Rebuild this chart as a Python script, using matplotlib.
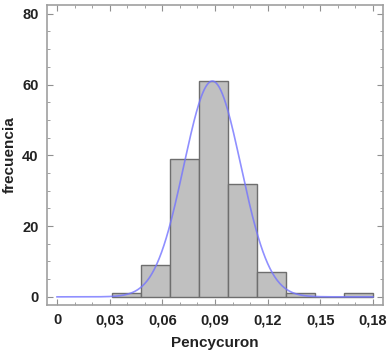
import numpy as np
import matplotlib
matplotlib.use("Agg")
import matplotlib.pyplot as plt
from matplotlib.ticker import MultipleLocator, FuncFormatter

# histogram of Pencycuron values
bin_start = 0.0315
bin_width = 0.0165
counts = [1, 9, 39, 61, 32, 7, 1, 0, 1]

# fitted normal curve
fit_mean = 0.0885
fit_sd = 0.0163

x_ticks = [0, 0.03, 0.06, 0.09, 0.12, 0.15, 0.18]
y_ticks = [0, 20, 40, 60, 80]

plt.rcParams["font.family"] = ["Liberation Sans", "DejaVu Sans"]
plt.rcParams["font.weight"] = "bold"

fig = plt.figure(figsize=(3.9, 3.53), dpi=100)
ax = fig.add_axes([0.1205, 0.136, 0.8615, 0.85])

edges = bin_start + bin_width * np.arange(len(counts) + 1)
ax.bar(edges[:-1], counts, width=bin_width, align="edge",
       color="#c0c0c0", edgecolor="#6e6e6e", linewidth=1.0, zorder=2)

n_total = sum(counts)
xs = np.linspace(0, 0.18, 400)
ys = n_total * bin_width / (fit_sd * np.sqrt(2 * np.pi)) * np.exp(-0.5 * ((xs - fit_mean) / fit_sd) ** 2)
ax.plot(xs, ys, color="#7474ff", linewidth=1.2, alpha=0.8, zorder=3)

ax.set_xlim(-0.0057, 0.1857)
ax.set_ylim(-2.3, 82.5)
ax.set_xticks(x_ticks)
ax.set_yticks(y_ticks)
ax.xaxis.set_minor_locator(MultipleLocator(0.01))
ax.yaxis.set_minor_locator(MultipleLocator(5))
ax.xaxis.set_major_formatter(FuncFormatter(lambda v, p: "0" if v == 0 else f"{v:.2f}".replace(".", ",")))

ax.tick_params(which="both", direction="in", top=True, right=True, color="#909090")
ax.tick_params(which="major", length=4, labelsize=10.5, labelcolor="#222222", pad=6)
ax.tick_params(which="minor", length=2)
for s in ax.spines.values():
    s.set_color("#a0a0a0")
    s.set_linewidth(1.2)

ax.set_xlabel("Pencycuron", fontsize=11, fontweight="bold", color="#222222", labelpad=6)
ax.set_ylabel("frecuencia", fontsize=11, fontweight="bold", color="#222222", labelpad=4)

fig.savefig("out.png", dpi=100)
